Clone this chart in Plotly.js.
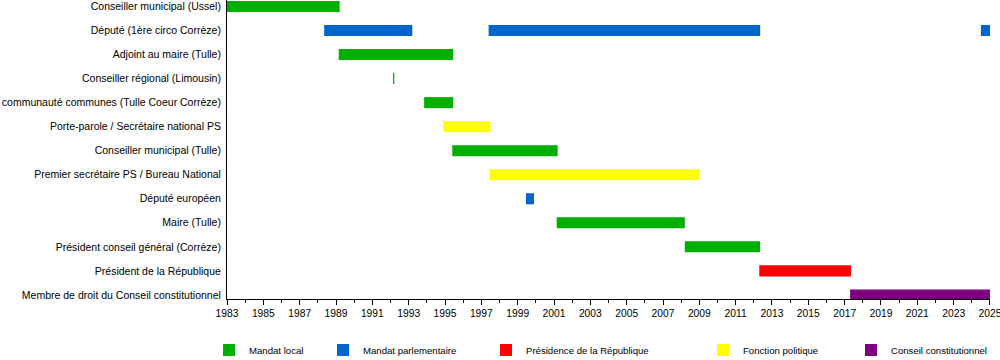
<!DOCTYPE html>
<html>
<head>
<meta charset="utf-8">
<script src="https://cdn.plot.ly/plotly-3.0.1.min.js"></script>
<style>html,body{margin:0;padding:0;background:#fff;}#chart{width:1000px;height:360px;}</style>
</head>
<body>
<div id="chart"></div>
<script>
const categories = [
  "Conseiller municipal (Ussel)",
  "Député (1ère circo Corrèze)",
  "Adjoint au maire (Tulle)",
  "Conseiller régional (Limousin)",
  "communauté communes (Tulle Coeur Corrèze)",
  "Porte-parole / Secrétaire national PS",
  "Conseiller municipal (Tulle)",
  "Premier secrétaire PS / Bureau National",
  "Député européen",
  "Maire (Tulle)",
  "Président conseil général (Corrèze)",
  "Président de la République",
  "Membre de droit du Conseil constitutionnel"
];

// Mandat local
const localRows  = [0, 2, 3, 4, 6, 9, 10];
const localStart = [1983.0, 1989.15, 1992.14, 1993.85, 1995.4, 2001.15, 2008.2];
const localEnd   = [1989.2, 1995.45, 1992.21, 1995.45, 2001.2, 2008.2, 2012.35];

// Mandat parlementaire
const parlRows  = [1, 1, 1, 8];
const parlStart = [1988.35, 1997.4, 2024.5, 1999.46];
const parlEnd   = [1993.2, 2012.35, 2025.0, 1999.9];

// Présidence de la République
const presRows  = [11];
const presStart = [2012.3];
const presEnd   = [2017.35];

// Fonction politique
const polRows  = [5, 7];
const polStart = [1994.9, 1997.45];
const polEnd   = [1997.5, 2008.98];

// Conseil constitutionnel
const constRows  = [12];
const constStart = [2017.3];
const constEnd   = [2025.0];

const seriesNames  = ["Mandat local", "Mandat parlementaire", "Présidence de la République", "Fonction politique", "Conseil constitutionnel"];
const seriesColors = ["#00b000", "#0066cc", "#ff0000", "#ffff00", "#7f007f"];

const xTickVals = [1983,1985,1987,1989,1991,1993,1995,1997,1999,2001,2003,2005,2007,2009,2011,2013,2015,2017,2019,2021,2023,2025];

const groups = [
  [localRows, localStart, localEnd],
  [parlRows, parlStart, parlEnd],
  [presRows, presStart, presEnd],
  [polRows, polStart, polEnd],
  [constRows, constStart, constEnd]
];

const legendX = [209, 323, 486, 703, 851];
const legendKeys = ["legend", "legend2", "legend3", "legend4", "legend5"];

const traces = groups.map((g, i) => ({
  type: "bar",
  orientation: "h",
  name: seriesNames[i],
  y: g[0].map(r => categories[r]),
  base: g[1],
  x: g[2].map((e, k) => e - g[1][k]),
  width: 0.46,
  marker: {color: seriesColors[i], line: {width: 0}},
  legend: legendKeys[i],
  hoverinfo: "skip"
}));

const fam = "Liberation Sans, Arial, sans-serif";
const font = {family: fam, size: 10.5, color: "#000"};
const legFont = {family: fam, size: 9.6, color: "#000"};

const layout = {
  width: 1000, height: 360,
  margin: {l: 227, r: 10, t: 0, b: 61, pad: 0},
  paper_bgcolor: "#fff", plot_bgcolor: "#fff",
  font: font,
  barmode: "overlay",
  showlegend: true,
  xaxis: {
    range: [1982.999, 2025.001],
    tickvals: xTickVals,
    ticktext: xTickVals.map(String),
    ticklabeloverflow: "allow",
    ticks: "outside", ticklen: 5, tickwidth: 1, tickcolor: "#000",
    minor: {dtick: 1, tick0: 1983, ticks: "outside", ticklen: 3, tickcolor: "#000", showgrid: false},
    showgrid: false, zeroline: false,
    showline: true, linecolor: "#000", linewidth: 1,
    tickfont: {family: fam, size: 10.3, color: "#000"}, fixedrange: true
  },
  yaxis: {
    type: "category",
    categoryorder: "array", categoryarray: categories,
    range: [12.17, -0.27],
    showgrid: false, zeroline: false,
    showline: true, linecolor: "#000", linewidth: 1,
    ticks: "", ticklabelstandoff: 3,
    tickfont: font, fixedrange: true
  }
};

legendKeys.forEach((k, i) => {
  layout[k] = {
    xref: "container", yref: "container",
    x: legendX[i] / 1000, y: 10 / 360,
    xanchor: "left", yanchor: "middle",
    orientation: "h",
    bgcolor: "rgba(0,0,0,0)", borderwidth: 0,
    font: legFont
  };
});

Plotly.newPlot("chart", traces, layout, {staticPlot: true, displayModeBar: false});
</script>
</body>
</html>
